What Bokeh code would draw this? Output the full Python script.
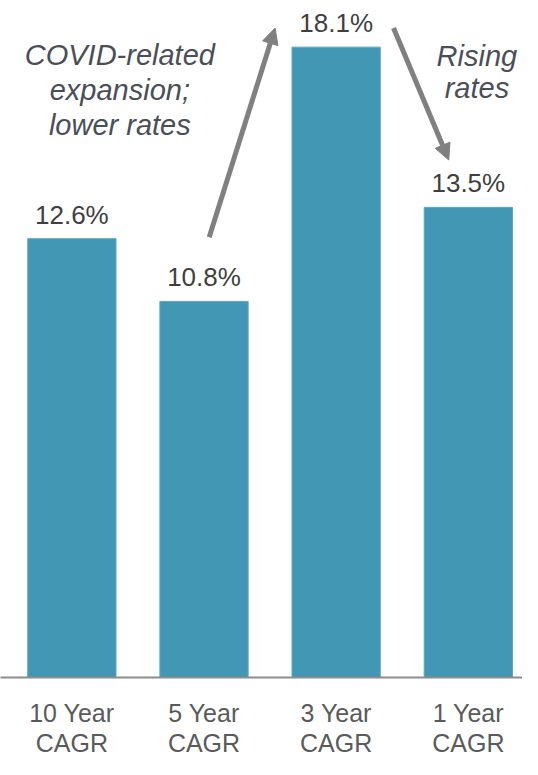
from bokeh.plotting import figure
from bokeh.models import ColumnDataSource, Range1d, FixedTicker, Arrow, NormalHead
from bokeh.core.properties import value
from bokeh.embed import file_html
from bokeh.resources import INLINE

# Data
categories = ["10 Year\nCAGR", "5 Year\nCAGR", "3 Year\nCAGR", "1 Year\nCAGR"]
cagr = [12.6, 10.8, 18.1, 13.5]
value_labels = ["12.6%", "10.8%", "18.1%", "13.5%"]
annot_left = ["COVID-related", "expansion;", "lower rates"]
annot_right = ["Rising", "rates"]

xs = list(range(len(cagr)))
src = ColumnDataSource(dict(x=xs, top=cagr, lab=value_labels))

FONT = "Liberation Sans"
p = figure(frame_width=522, frame_height=677, output_backend="svg",
           toolbar_location=None, x_range=Range1d(-0.540, 3.410),
           y_range=Range1d(0, 19.44), min_border_left=0, min_border_right=0,
           min_border_top=0, min_border_bottom=82)
p.outline_line_color = None
p.grid.visible = False
p.yaxis.visible = False
p.background_fill_color = "white"

p.vbar(x="x", top="top", width=0.668, bottom=0, source=src,
       fill_color="#4297b5", line_color="#5aa7c2", line_width=1)

p.text(x="x", y="top", text="lab", source=src, text_align="center",
       text_baseline="alphabetic", y_offset=-24, text_font=value(FONT),
       text_font_size="26px", text_color="#3f3f3f")

ax = p.xaxis[0]
ax.ticker = FixedTicker(ticks=xs)
ax.major_label_overrides = {i: c for i, c in zip(xs, categories)}
ax.major_tick_out = 0
ax.major_tick_in = 0
ax.minor_tick_out = 0
ax.minor_tick_in = 0
ax.axis_line_color = "#8c8c8c"
ax.axis_line_width = 2
ax.major_label_standoff = 21
ax.major_label_text_font = FONT
ax.major_label_text_font_size = "25px"
ax.major_label_text_color = "#5a5a5a"
ax.major_label_text_line_height = 1.08

# Annotations
left_y = [17.58, 16.57, 15.59]
p.text(x=[0.363] * 3, y=left_y, text=annot_left, text_align="center",
       text_baseline="alphabetic", y_offset=-10, text_font=value(FONT),
       text_font_style="italic", text_font_size="29px", text_color="#4a4f57")
right_y = [17.56, 16.63]
p.text(x=[3.065] * 2, y=right_y, text=annot_right, text_align="center",
       text_baseline="alphabetic", y_offset=-10, text_font=value(FONT),
       text_font_style="italic", text_font_size="29px", text_color="#4a4f57")

ARROW = "#808080"
for (x0, y0, x1, y1) in [(1.039, 12.64, 1.538, 18.65), (2.434, 18.65, 2.852, 14.86)]:
    p.add_layout(Arrow(x_start=x0, y_start=y0, x_end=x1, y_end=y1,
                       line_color=ARROW, line_width=5,
                       end=NormalHead(size=16, fill_color=ARROW, line_color=ARROW)))

open("out.html", "w").write(file_html(p, INLINE))
